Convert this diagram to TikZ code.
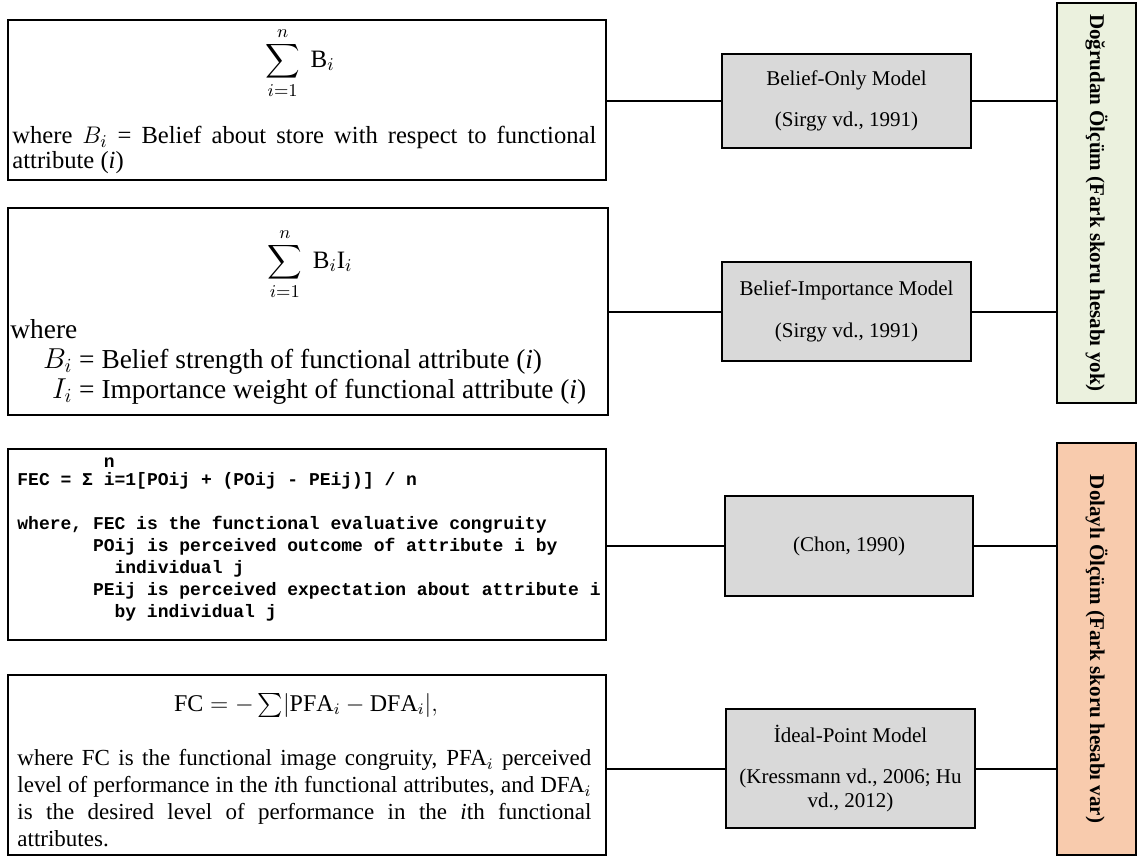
\documentclass[tikz,border=0pt]{standalone}
\usepackage{fontspec}
\setmainfont{Liberation Serif}
\setmonofont{Liberation Mono}
\usepackage{amsmath}
\usepackage{tikz}
\usetikzlibrary{positioning}
\definecolor{ModelGray}    {HTML}{D9D9D9}
\definecolor{DirectGreen}  {HTML}{EBF1DE}
\definecolor{IndirectPeach}{HTML}{F8CBAD}
\tikzset{
  formulabox/.style={draw,line width=1.2pt,inner sep=0pt,minimum width=299pt},
  modelbox/.style={draw,fill=ModelGray,line width=1.2pt,inner sep=0pt,
    minimum width=124.5pt,align=center,font=\fontsize{10.5}{11.8}\selectfont},
  panelbox/.style={draw,line width=1.2pt,inner sep=0pt,minimum width=39.5pt},
  panellabel/.style={rotate=-90,inner sep=0pt,font=\bfseries\fontsize{10.5}{12}\selectfont},
  bodytext/.style={anchor=north west,inner sep=0pt,align=justify},
  link/.style={line width=1pt},
}

\begin{document}
\begin{tikzpicture}[x=0.5pt,y=-0.5pt]
    \path[use as bounding box] (0,0) rectangle (1137,857);

    % formula boxes
    \node[formulabox,minimum height=80pt] (f1) at (307,100) {};
    \node[font=\fontsize{12.5}{14}\selectfont] (f1sum) at (300,63)
      {$\displaystyle\sum_{i=1}^{n}\;\mathrm{B}_i$};
    \node[bodytext,text width=292pt,font=\fontsize{12.3}{12.5}\selectfont] (f1txt) at (12,126)
      {where $B_i$ = Belief about store with respect to functional\linebreak attribute (\textit{i})};

    \node[formulabox,minimum width=300pt,minimum height=103.5pt] (f2) at (308,311.5) {};
    \node[font=\fontsize{12.5}{14}\selectfont] (f2sum) at (310,264)
      {$\displaystyle\sum_{i=1}^{n}\;\mathrm{B}_i\mathrm{I}_i$};
    \node[bodytext,align=left,font=\fontsize{13.7}{15}\selectfont] (f2txt) at (10,319)
      {where\\
       \hspace*{17pt}\makebox[14pt][r]{$B_i$} = Belief strength of functional attribute (\textit{i})\\
       \hspace*{17pt}\makebox[14pt][r]{$I_i$} = Importance weight of functional attribute (\textit{i})};

    \node[formulabox,minimum height=95.5pt] (f3) at (307,544.5) {};
    \node[bodytext,align=left,font=\ttfamily\bfseries\fontsize{9}{11}\selectfont] (f3txt) at (17,457)
      {FEC = Σ \rlap{\raisebox{9pt}{n}}i=1[POij + (POij - PEij)] / n\\[11pt]
       where, FEC is the functional evaluative congruity\\
       \hspace*{4.2em}POij is perceived outcome of attribute i by\\
       \hspace*{5.4em}individual j\\
       \hspace*{4.2em}PEij is perceived expectation about attribute i\\
       \hspace*{5.4em}by individual j};

    \node[formulabox,minimum height=90pt] (f4) at (307,765) {};
    \node[font=\fontsize{12}{14}\selectfont] (f4eq) at (306,705)
      {$\mathrm{FC} = -\sum\lvert\mathrm{PFA}_i - \mathrm{DFA}_i\rvert,$};
    \node[bodytext,text width=287pt,font=\fontsize{11.5}{13.5}\selectfont] (f4txt) at (17,749)
      {where FC is the functional image congruity, PFA$_i$ perceived\linebreak
       level of performance in the \textit{i}th functional attributes, and DFA$_i$\linebreak
       is the desired level of performance in the \textit{i}th functional\linebreak
       attributes.};

    % model boxes
    \node[modelbox,minimum height=47pt] (m1) at (846.5,101)
      {Belief-Only Model\\[9pt](Sirgy vd., 1991)};
    \node[modelbox,minimum height=49.5pt] (m2) at (846.5,311.5)
      {Belief-Importance Model\\[9pt](Sirgy vd., 1991)};
    \node[modelbox,minimum width=124pt,minimum height=50pt] (m3) at (849,546)
      {(Chon, 1990)};
    \node[modelbox,minimum height=59.5pt] (m4) at (850.5,768.5)
      {İdeal-Point Model\\[9pt](Kressmann vd., 2006; Hu\\vd., 2012)};

    % measurement panels
    \node[panelbox,fill=DirectGreen,minimum height=200pt] (direct) at (1096.5,203) {};
    \node[panellabel] (directlbl) at (direct.center) {Doğrudan Ölçüm (Fark skoru hesabı yok)};
    \node[panelbox,fill=IndirectPeach,minimum height=206pt] (indirect) at (1096.5,649) {};
    \node[panellabel] (indirectlbl) at (indirect.center) {Dolaylı Ölçüm (Fark skoru hesabı var)};

    % links
    \draw[link] (f1.east |- m1.west) -- (m1.west);
    \draw[link] (f2.east |- m2.west) -- (m2.west);
    \draw[link] (f3.east |- m3.west) -- (m3.west);
    \draw[link] (f4.east |- m4.west) -- (m4.west);
    \draw[link] (m1.east) -- (m1.east -| direct.west);
    \draw[link] (m2.east) -- (m2.east -| direct.west);
    \draw[link] (m3.east) -- (m3.east -| indirect.west);
    \draw[link] (m4.east) -- (m4.east -| indirect.west);
  \end{tikzpicture}
\end{document}
